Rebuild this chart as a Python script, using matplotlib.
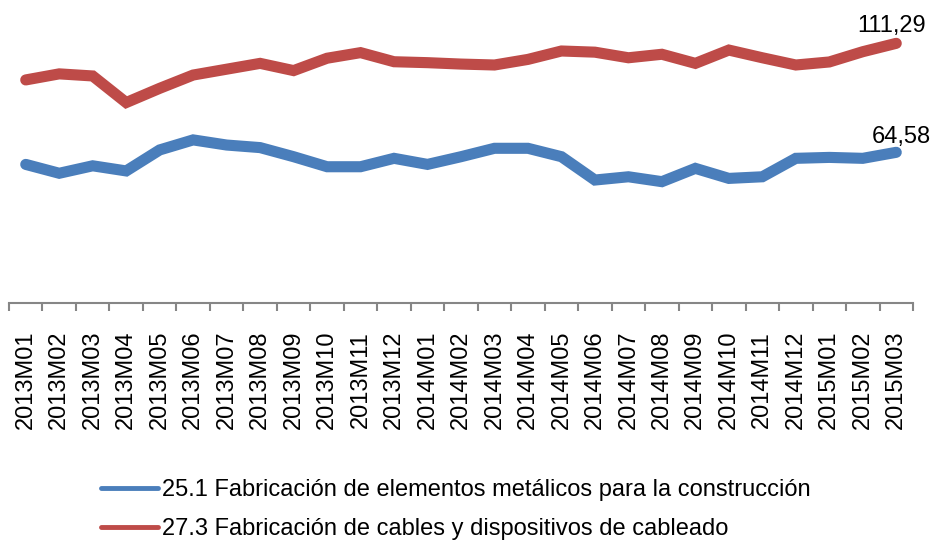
import numpy as np
import matplotlib.pyplot as plt

plt.rcParams['font.family'] = ['Liberation Sans', 'DejaVu Sans']

meses = ["2013M01", "2013M02", "2013M03", "2013M04", "2013M05", "2013M06",
         "2013M07", "2013M08", "2013M09", "2013M10", "2013M11", "2013M12",
         "2014M01", "2014M02", "2014M03", "2014M04", "2014M05", "2014M06",
         "2014M07", "2014M08", "2014M09", "2014M10", "2014M11", "2014M12",
         "2015M01", "2015M02", "2015M03"]

# 25.1 elementos metálicos
metalicos = [59.4, 55.6, 58.8, 56.6, 65.6, 69.9, 67.7, 66.6, 62.7, 58.4,
             58.4, 62.0, 59.4, 62.7, 66.3, 66.3, 62.7, 52.7, 54.1, 52.0,
             57.7, 53.4, 54.1, 62.0, 62.4, 62.0, 64.58]
# 27.3 cables y dispositivos
cables = [95.6, 98.2, 97.3, 85.9, 92.0, 97.7, 100.2, 102.7, 99.6, 104.9,
          107.3, 103.4, 103.0, 102.4, 102.0, 104.4, 108.0, 107.5, 105.1, 106.6,
          102.7, 108.4, 105.1, 102.0, 103.3, 107.7, 111.29]

nombres = ["25.1 Fabricación de elementos metálicos para la construcción",
           "27.3 Fabricación de cables y dispositivos de cableado"]

azul = "#4A7EBB"
rojo = "#BE4B48"

x = np.arange(len(meses))

fig = plt.figure(figsize=(9.35, 5.5), dpi=100)
ax = fig.add_axes([9/935, 1-303/550, 904/935, 280/550])

l1, = ax.plot(x, metalicos, color=azul, lw=8, solid_capstyle='round', solid_joinstyle='miter')
l2, = ax.plot(x, cables, color=rojo, lw=8, solid_capstyle='round', solid_joinstyle='miter')

ax.set_xlim(-0.5, len(meses) - 0.5)
ax.set_ylim(0, 120)

for s in ['top', 'right', 'left']:
    ax.spines[s].set_visible(False)
ax.spines['bottom'].set_color('#868686')
ax.spines['bottom'].set_linewidth(1.5)
ax.set_yticks([])

ax.set_xticks(np.arange(len(meses) + 1) - 0.5, minor=True)
ax.set_xticks(x)
ax.set_xticklabels(meses, rotation=90, fontsize=17)
ax.tick_params(axis='x', which='major', length=0, pad=20)
ax.tick_params(axis='x', which='minor', length=6, width=1.5, color='#868686')

ax.annotate(f"{cables[-1]:.2f}".replace('.', ','), (x[-1], cables[-1]),
            xytext=(-28, 8), textcoords='offset points', fontsize=17, clip_on=False)
ax.annotate(f"{metalicos[-1]:.2f}".replace('.', ','), (x[-1], metalicos[-1]),
            xytext=(-18, 7), textcoords='offset points', fontsize=17, clip_on=False)

leg = fig.legend([l1, l2], nombres, loc='upper left', bbox_to_anchor=(92/935, 1-470/550),
                 frameon=False, fontsize=17, handlelength=2.4, handletextpad=0.15,
                 labelspacing=0.72, borderaxespad=0)
for h in leg.legend_handles:
    h.set_linewidth(3.5)

fig.savefig("out.png", dpi=100)
